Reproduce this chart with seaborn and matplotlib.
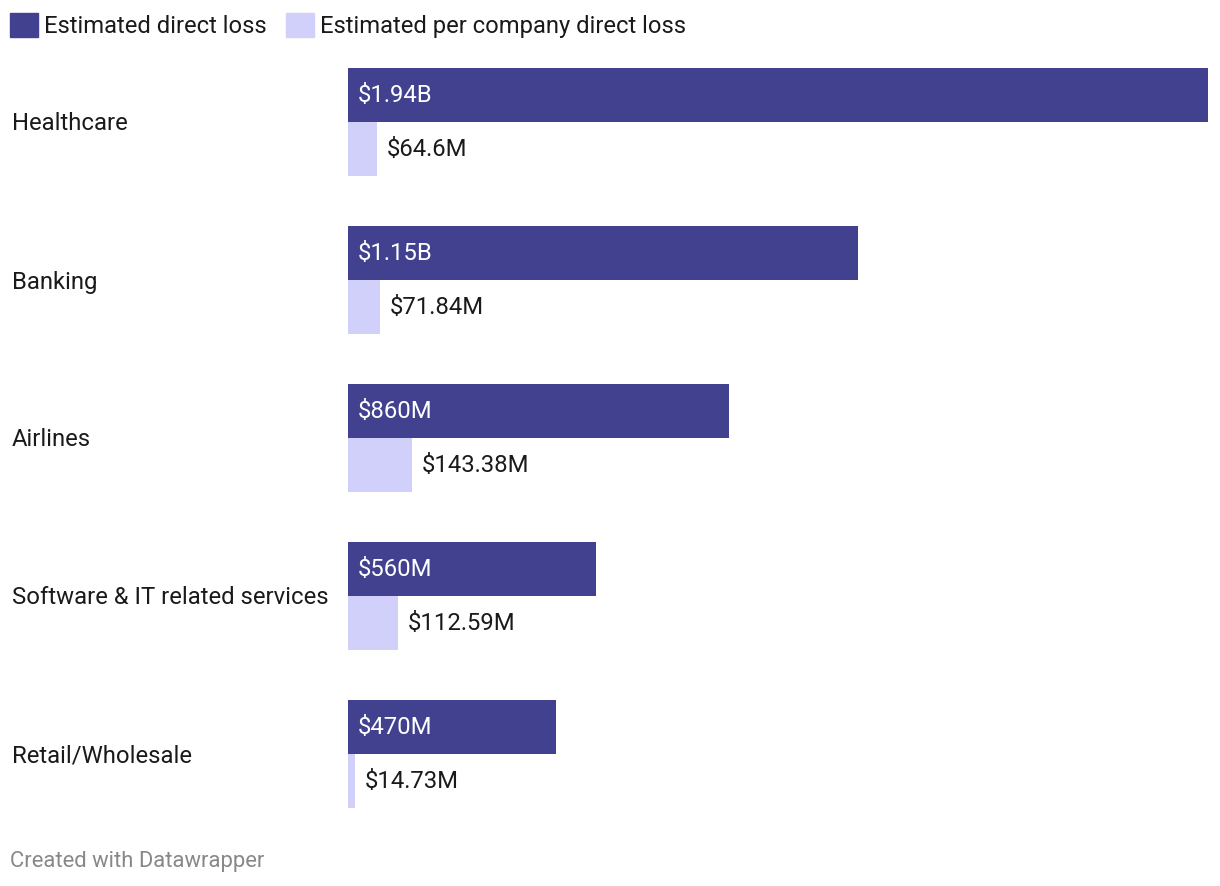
import pandas as pd
import seaborn as sns
import matplotlib.pyplot as plt

sectors = ['Healthcare', 'Banking', 'Airlines', 'Software & IT related services', 'Retail/Wholesale']
direct_loss = [1940, 1150, 860, 560, 470]          # $M
per_company_loss = [64.6, 71.84, 143.38, 112.59, 14.73]  # $M
direct_labels = ['$1.94B', '$1.15B', '$860M', '$560M', '$470M']
per_company_labels = ['$64.6M', '$71.84M', '$143.38M', '$112.59M', '$14.73M']
series = ['Estimated direct loss', 'Estimated per company direct loss']
colors = ['#41418f', '#d0d0fa']

df = pd.DataFrame({
    'Sector': sectors * 2,
    'Value': direct_loss + per_company_loss,
    'Series': [series[0]] * len(sectors) + [series[1]] * len(sectors),
})

sns.set_style('white')
plt.rcParams['font.family'] = ['Roboto', 'DejaVu Sans']

fig = plt.figure(figsize=(12.2, 8.86), dpi=100)
ax = fig.add_axes([348 / 1220, 1 - 808 / 886, 860 / 1220, 740 / 886])

sns.barplot(data=df, y='Sector', x='Value', hue='Series', palette=colors,
            orient='h', width=108 / 158, gap=0, dodge=True, ax=ax, legend=False,
            saturation=1, linewidth=0)

ax.set_xlim(0, 1940)
half = 54 / 158
ax.set_ylim(len(sectors) - 1 + half, -half)
ax.set_xticks([])
ax.set_yticks([])
ax.set_xlabel('')
ax.set_ylabel('')
for s in ax.spines.values():
    s.set_visible(False)

fs = 17.2
# bar value labels
for i in range(len(sectors)):
    ax.annotate(direct_labels[i], (0, i - half / 2), xytext=(10, 0), textcoords='offset pixels',
                va='center', ha='left', color='white', fontsize=fs)
    ax.annotate(per_company_labels[i], (per_company_loss[i], i + half / 2), xytext=(10, 0),
                textcoords='offset pixels', va='center', ha='left', color='#1a1a1a', fontsize=fs)
    # category labels on the left
    ax.annotate(sectors[i], (0, i), xytext=(12 / 1220, i + 2 / 158), textcoords=('figure fraction', 'data'),
                va='center', ha='left', color='#1a1a1a', fontsize=fs)

# legend
handles = [plt.Rectangle((0, 0), 1, 1, color=c) for c in colors]
fig.legend(handles, series, loc='upper left', bbox_to_anchor=(10 / 1220, 1 - 13 / 886), ncol=2,
           frameon=False, handlelength=1.19, handleheight=1.19, handletextpad=0.25,
           columnspacing=0.8, fontsize=fs - 0.1, labelcolor='#1a1a1a', borderaxespad=0, borderpad=0)

fig.text(10 / 1220, 1 - 861 / 886, 'Created with Datawrapper', color='#888888', fontsize=15.8,
         va='center', ha='left')

fig.savefig('out.png', dpi=100)
